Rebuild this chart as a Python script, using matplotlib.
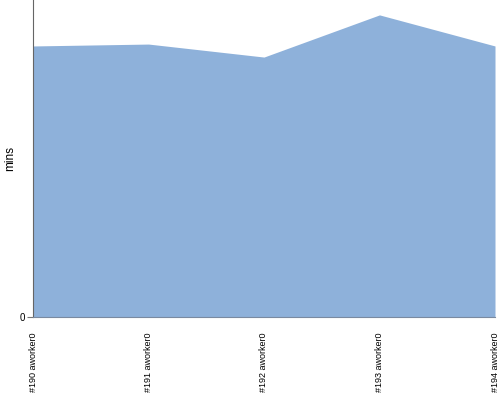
import matplotlib
matplotlib.use("Agg")
import matplotlib.pyplot as plt

labels = ["#190 aworker0", "#191 aworker0", "#192 aworker0", "#193 aworker0", "#194 aworker0"]
values = [8.55, 8.61, 8.20, 9.53, 8.55]

fig = plt.figure(figsize=(5, 4), dpi=100)
ax = fig.add_axes([0.066, 0.2075, 0.924, 0.7925])
x = list(range(len(labels)))
ax.fill_between(x, values, 0, color="#8EB1DA", linewidth=0)
ax.set_xlim(0, len(labels) - 1)
ax.set_ylim(0, 10)
ax.set_yticks([0])
ax.set_yticklabels(["0"], fontsize=7, family="Liberation Sans")
ax.set_xticks(x)
ax.set_xticklabels(labels, rotation=90, fontsize=6.5, va="top", family="Liberation Sans")
ax.tick_params(axis="x", length=0, pad=11)
ax.tick_params(axis="y", length=4, color="#777777", pad=2)
ax.set_ylabel("mins", fontsize=8.5, family="Liberation Sans")
ax.yaxis.set_label_coords(-0.037, 0.5)
for s in ["top", "right"]:
    ax.spines[s].set_visible(False)
ax.spines["left"].set_color("#666666")
ax.spines["bottom"].set_color("#7a8aa0")
fig.savefig("out.png", dpi=100)
